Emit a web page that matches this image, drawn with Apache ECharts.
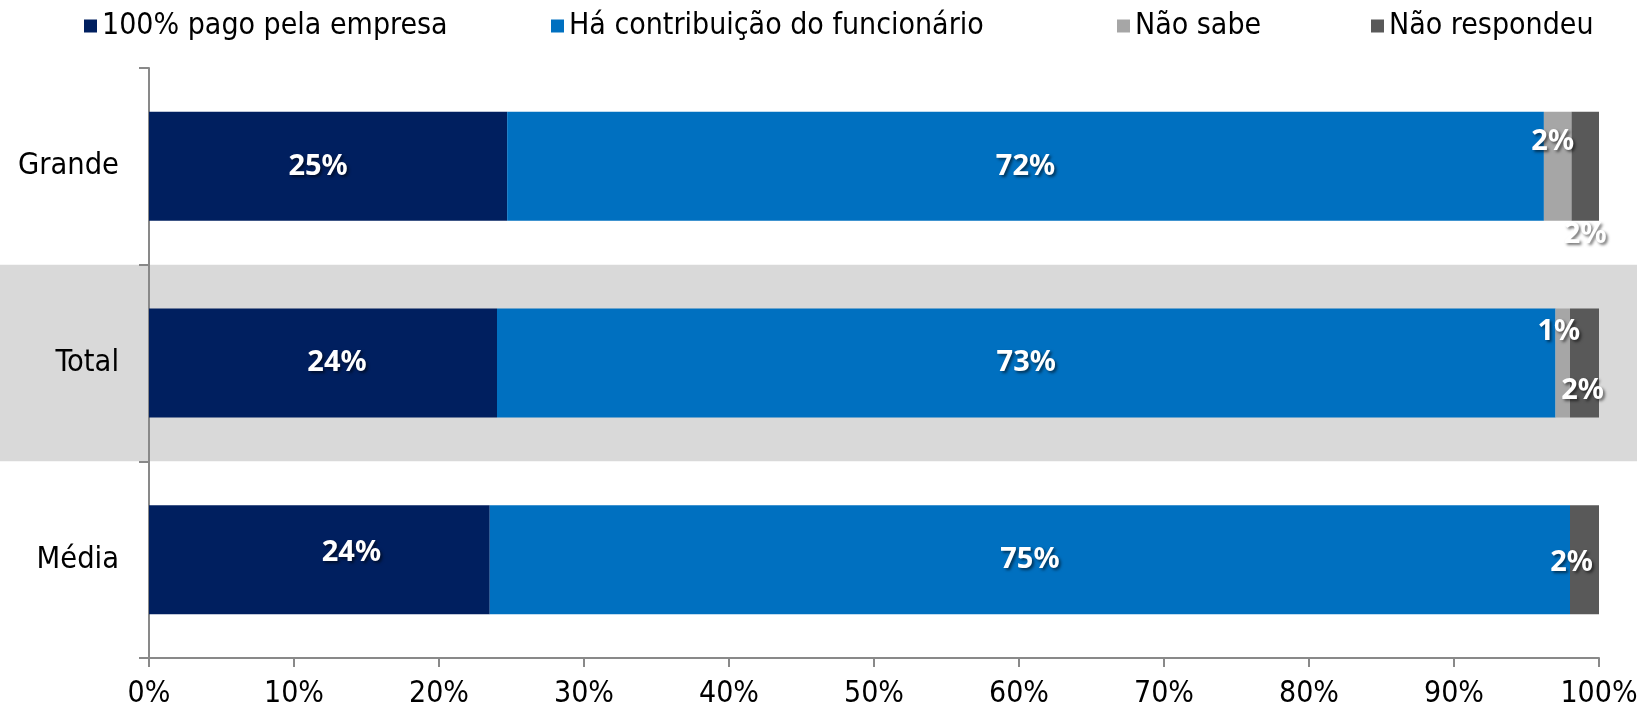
<!DOCTYPE html>
<html>
<head>
<meta charset="utf-8">
<style>html,body{margin:0;padding:0;background:#fff;}#c{width:1637px;height:713px;}</style>
<script src="https://cdn.jsdelivr.net/npm/echarts@6/dist/echarts.min.js"></script>
</head>
<body>
<div id="c"></div>
<script>
// ---- data ----
const categories = ['Grande', 'Total', 'Média'];
const seriesNames = ['100% pago pela empresa', 'Há contribuição do funcionário', 'Não sabe', 'Não respondeu'];
const pagoEmpresa = [24.7, 24.0, 23.5];
const contribuicao = [71.5, 73.0, 74.5];
const naoSabe = [1.9, 1.0, 0];
const naoRespondeu = [1.9, 2.0, 2.0];
const xTicks = [0, 10, 20, 30, 40, 50, 60, 70, 80, 90, 100];

// ---- styling ----
const colors = ['#001F5F', '#0070C0', '#A6A6A6', '#595959'];
const txtFont = "'DejaVu Sans Condensed', 'DejaVu Sans', sans-serif";
const lblFont = "'Noto Sans', 'Open Sans', sans-serif";
// label nudges (per series, per category) copying the reference placement
const labelOffsets = [
  [[-10, 0], [14, 0], [32, -7]],
  [[0, 0], [0, 0], [0, 0]],
  [[-5, -25], [-4, -31], [0, 0]],
  [[0, 68], [-2, 28], [-13, 3]]
];
const legendLefts = [84, 551, 1117, 1371];
const GRID = {left: 149, right: 38, top: 68, bottom: 55};

const allData = [pagoEmpresa, contribuicao, naoSabe, naoRespondeu];

const series = allData.map((arr, si) => ({
  name: seriesNames[si],
  type: 'bar',
  stack: 'total',
  barWidth: 109,
  itemStyle: {color: colors[si]},
  label: {
    show: true,
    position: 'inside',
    color: '#fff',
    fontFamily: lblFont,
    fontWeight: 'bold',
    fontSize: 29,
    textShadowColor: 'rgba(0,0,0,0.55)',
    textShadowBlur: 3,
    textShadowOffsetX: 2,
    textShadowOffsetY: 2,
    formatter: p => p.value > 0 ? Math.round(p.value) + '%' : ''
  },
  labelLayout: function (params) {
    const o = labelOffsets[si][params.dataIndex];
    return {dx: o[0], dy: o[1], hideOverlap: false};
  },
  data: arr
}));

const legends = seriesNames.map((n, i) => ({
  top: 11,
  left: legendLefts[i],
  padding: 0,
  itemWidth: 13,
  itemHeight: 13,
  itemGap: 0,
  itemTextGap: 5,
  icon: 'rect',
  itemStyle: {borderWidth: 0},
  textStyle: {fontFamily: txtFont, fontSize: 30, color: '#000'},
  data: [n]
}));

const chart = echarts.init(document.getElementById('c'), null, {renderer: 'canvas'});
chart.setOption({
  animation: false,
  backgroundColor: '#fff',
  legend: legends,
  grid: Object.assign({containLabel: false, outerBoundsMode: 'none'}, GRID),
  xAxis: {
    type: 'value',
    min: xTicks[0],
    max: xTicks[xTicks.length - 1],
    interval: xTicks[1] - xTicks[0],
    axisLine: {show: true, lineStyle: {color: '#898989', width: 2}},
    axisTick: {show: true, length: 9, lineStyle: {color: '#898989', width: 2}},
    splitLine: {show: false},
    axisLabel: {
      formatter: '{value}%',
      fontFamily: txtFont,
      fontSize: 30,
      color: '#000',
      margin: 21,
      hideOverlap: false
    }
  },
  yAxis: {
    type: 'category',
    inverse: true,
    data: categories,
    axisLine: {show: true, lineStyle: {color: '#898989', width: 2}},
    axisTick: {show: true, length: 10, lineStyle: {color: '#898989', width: 2}},
    axisLabel: {
      fontFamily: txtFont,
      fontSize: 30.5,
      color: '#000',
      margin: 30
    }
  },
  series: series
});

// shaded band behind the "Total" row, spanning the full width
const bandCenter = chart.convertToPixel({yAxisIndex: 0}, 'Total');
const bandH = (chart.getHeight() - GRID.top - GRID.bottom) / categories.length;
chart.setOption({
  graphic: [{
    type: 'rect',
    z: -10,
    silent: true,
    shape: {x: 0, y: bandCenter - bandH / 2, width: chart.getWidth(), height: bandH},
    style: {fill: '#D9D9D9'}
  }]
});
</script>
</body>
</html>
